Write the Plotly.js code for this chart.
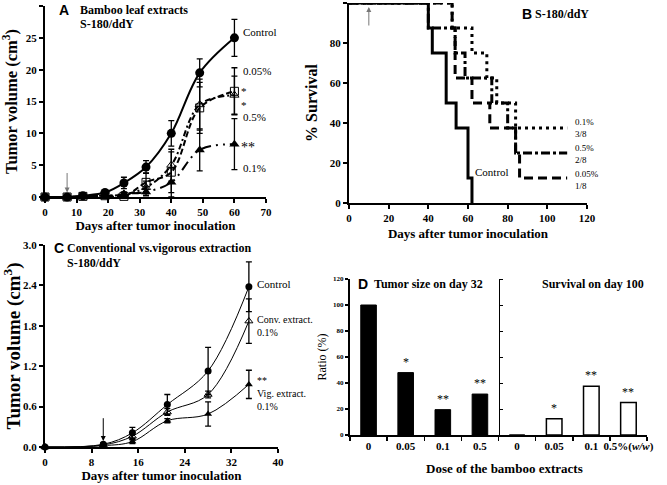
<!DOCTYPE html>
<html>
<head>
<meta charset="utf-8">
<script src="https://cdn.plot.ly/plotly-3.0.1.min.js"></script>
<style>
  html, body { margin: 0; padding: 0; background: #fff; }
  #plot { width: 667px; height: 485px; }
</style>
</head>
<body>
<div id="plot"></div>
<script>
// Panel A - tumor volume, bamboo leaf extracts
var daysA = [0, 7, 12, 19, 25, 32, 40, 49, 60];
var ctrlA = [0, 0, 0.2, 0.7, 2.2, 4.7, 10.0, 19.5, 25.0];
var ctrlAErr = [0, 0, 0.1, 0.2, 0.9, 1.0, 2.0, 2.2, 2.9];
var p005A = [0, 0, 0.1, 0.2, 0.1, 2.3, 3.9, 14.0, 16.6];
var p005AErr = [0, 0, 0, 0.1, 0.2, 1.5, 3.2, 4.0, 3.7];
var p05A = [0, 0, 0.1, 0.2, 0.4, 1.5, 5.0, 14.5, 16.0];
var p05AErr = [0, 0, 0, 0.1, 0.3, 1.0, 2.5, 4.0, 3.0];
var p01A = [0, 0, 0, 0.1, 0.5, 0.8, 2.3, 7.4, 8.3];
var p01AErr = [0, 0, 0, 0.1, 0.3, 0.6, 2.3, 3.3, 4.0];

// Panel B - survival (step curves)
var ctrlBDays = [0, 40, 42, 49, 54, 60, 62];
var ctrlBSurv = [100, 87.5, 75, 50, 37.5, 12.5, 0];
var p01BDays = [0, 52, 62, 69.5, 74.5, 84, 110];
var p01BSurv = [100, 87.5, 75, 62.5, 50, 37.5, 37.5];
var p05BDays = [0, 40, 53.5, 58.5, 72, 80, 84, 110];
var p05BSurv = [100, 87.5, 75, 62.5, 50, 37.5, 25, 25];
var p005BDays = [0, 52, 53.5, 62, 71, 84, 86, 110];
var p005BSurv = [100, 87.5, 62.5, 50, 37.5, 25, 12.5, 12.5];

// Panel C - conventional vs vigorous extraction
var daysC = [0, 10, 15, 21, 28, 35];
var ctrlC = [0, 0.04, 0.21, 0.63, 1.13, 2.38];
var ctrlCErr = [0, 0.02, 0.08, 0.15, 0.35, 0.37];
var convC = [0, 0.03, 0.16, 0.52, 0.78, 1.87];
var convCErr = [0, 0.01, 0.05, 0.05, 0.05, 0.33];
var vigC = [0, 0.02, 0.08, 0.39, 0.49, 0.93];
var vigCErr = [0, 0.01, 0.03, 0.03, 0.18, 0.21];

// Panel D - ratios
var doses = ['0', '0.05', '0.1', '0.5'];
var tumorRatio = [100, 48, 19.5, 31.5];
var survRatio = [0, 12.5, 37.5, 25];
var tumorSig = ['', '*', '**', '**'];
var survSig = ['', '*', '**', '**'];
var doseLabels = ['0', '0.05', '0.1', '0.5', '0', '0.05', '0.1', '0.5%(<i>w/w</i>)'];

var serif = 'Liberation Serif, Times New Roman, serif';
var tickBold = {family: serif, size: 11, color: '#000', weight: 'bold'};
var titleBold = {family: serif, size: 13, color: '#000', weight: 'bold'};

function axis(extra) {
  var a = {
    showgrid: false, zeroline: false, showline: true, linecolor: '#000', linewidth: 2,
    ticks: 'outside', ticklen: 4, tickwidth: 2, tickcolor: '#000',
    tickfont: tickBold, automargin: false, fixedrange: true
  };
  for (var k in extra) a[k] = extra[k];
  return a;
}

function errBars(arr) {
  return {type: 'data', array: arr, color: '#000', thickness: 1.3, width: 3};
}

var data = [];

// Panel A traces
data.push({x: daysA, y: ctrlA, error_y: errBars(ctrlAErr), type: 'scatter', mode: 'lines+markers',
  line: {color: '#000', width: 2, shape: 'spline'}, marker: {symbol: 'circle', size: 9, color: '#000'},
  cliponaxis: false, xaxis: 'x', yaxis: 'y'});
data.push({x: daysA, y: p005A, error_y: errBars(p005AErr), type: 'scatter', mode: 'lines+markers',
  line: {color: '#000', width: 2, shape: 'spline', dash: '6px,3px'},
  marker: {symbol: 'square-open', size: 8, color: '#000', line: {width: 1}},
  cliponaxis: false, xaxis: 'x', yaxis: 'y'});
data.push({x: daysA, y: p05A, error_y: errBars(p05AErr), type: 'scatter', mode: 'lines+markers',
  line: {color: '#000', width: 2, shape: 'spline', dash: '6px,3px,2px,3px'},
  marker: {symbol: 'triangle-up-open', size: 8, color: '#000', line: {width: 1}},
  cliponaxis: false, xaxis: 'x', yaxis: 'y'});
data.push({x: daysA, y: p01A, error_y: errBars(p01AErr), type: 'scatter', mode: 'lines+markers',
  line: {color: '#000', width: 2, shape: 'spline', dash: '10px,5px,2px,5px,2px,5px'},
  marker: {symbol: 'triangle-up', size: 9, color: '#000'},
  cliponaxis: false, xaxis: 'x', yaxis: 'y'});

// Panel B traces
data.push({x: ctrlBDays, y: ctrlBSurv, type: 'scatter', mode: 'lines',
  line: {color: '#000', width: 3, shape: 'hv'}, cliponaxis: false, xaxis: 'x2', yaxis: 'y2'});
data.push({x: p01BDays, y: p01BSurv, type: 'scatter', mode: 'lines',
  line: {color: '#000', width: 3, shape: 'hv', dash: '3px,4px'}, cliponaxis: false, xaxis: 'x2', yaxis: 'y2'});
data.push({x: p05BDays, y: p05BSurv, type: 'scatter', mode: 'lines',
  line: {color: '#000', width: 3, shape: 'hv', dash: '9px,3px,3px,3px'}, cliponaxis: false, xaxis: 'x2', yaxis: 'y2'});
data.push({x: p005BDays, y: p005BSurv, type: 'scatter', mode: 'lines',
  line: {color: '#000', width: 3, shape: 'hv', dash: '9px,5px'}, cliponaxis: false, xaxis: 'x2', yaxis: 'y2'});

// Panel C traces
data.push({x: daysC, y: ctrlC, error_y: errBars(ctrlCErr), type: 'scatter', mode: 'lines+markers',
  line: {color: '#000', width: 1, shape: 'spline'}, marker: {symbol: 'circle', size: 7, color: '#000'},
  cliponaxis: false, xaxis: 'x3', yaxis: 'y3'});
data.push({x: daysC, y: convC, error_y: errBars(convCErr), type: 'scatter', mode: 'lines+markers',
  line: {color: '#000', width: 1, shape: 'spline'},
  marker: {symbol: 'triangle-up-open', size: 7, color: '#000', line: {width: 1}},
  cliponaxis: false, xaxis: 'x3', yaxis: 'y3'});
data.push({x: daysC, y: vigC, error_y: errBars(vigCErr), type: 'scatter', mode: 'lines+markers',
  line: {color: '#000', width: 1, shape: 'spline'}, marker: {symbol: 'triangle-up', size: 7, color: '#000'},
  cliponaxis: false, xaxis: 'x3', yaxis: 'y3'});

// Panel D traces
data.push({x: [0, 1, 2, 3], y: tumorRatio, type: 'bar', width: 0.42,
  marker: {color: '#000', line: {color: '#000', width: 1}}, cliponaxis: false, xaxis: 'x4', yaxis: 'y4'});
data.push({x: [4, 5, 6, 7], y: survRatio, type: 'bar', width: 0.42,
  marker: {color: '#fff', line: {color: '#000', width: 1.5}}, cliponaxis: false, xaxis: 'x4', yaxis: 'y4'});
// divider axis inside panel D
data.push({x: [], y: [], type: 'scatter', mode: 'markers', xaxis: 'x4', yaxis: 'y5', hoverinfo: 'skip'});

function note(xref, yref, x, y, text, font, extra) {
  var a = {xref: xref, yref: yref, x: x, y: y, text: text, showarrow: false,
    xanchor: 'left', yanchor: 'middle', align: 'left', font: font};
  for (var k in extra) a[k] = extra[k];
  return a;
}
var lbl = {family: serif, size: 11, color: '#000'};
var lblSmall = {family: serif, size: 10, color: '#000'};
var lblTiny = {family: serif, size: 9, color: '#000'};
var star = {family: serif, size: 14, color: '#000'};
var head = {family: serif, size: 12, color: '#000', weight: 'bold'};
var letter = {family: 'Liberation Sans, Arial, sans-serif', size: 14, color: '#000', weight: 'bold'};

var annotations = [
  // A
  note('x', 'y', 3.9, 29.3, 'A', letter),
  note('x', 'y', 10.3, 29.3, 'Bamboo leaf extracts', head),
  note('x', 'y', 10.3, 27.2, 'S-180/ddY', head),
  note('x', 'y', 62.0, 25.9, 'Control', lbl),
  note('x', 'y', 62.0, 19.8, '0.05%', lbl),
  note('x', 'y', 61.5, 15.6, '*<br>*', {family: serif, size: 11, color: '#000'}),
  note('x', 'y', 62.0, 12.6, '0.5%', lbl),
  note('x', 'y', 61.5, 7.8, '**', star),
  note('x', 'y', 62.0, 4.6, '0.1%', lbl),
  {xref: 'x', yref: 'y', axref: 'x', ayref: 'y', x: 7, y: 0.7, ax: 7, ay: 4.0, text: '',
    showarrow: true, arrowhead: 2, arrowsize: 1, arrowwidth: 1, arrowcolor: '#777'},
  // B
  note('x2', 'y2', 86.3, 94.6, 'B', letter),
  note('x2', 'y2', 93.0, 94.6, 'S-180/ddY', head),
  note('x2', 'y2', 62.4, 15.3, 'Control', lbl),
  note('x2', 'y2', 113.0, 37.6, '0.1%<br>3/8', lblTiny),
  note('x2', 'y2', 113.0, 24.3, '0.5%<br>2/8', lblTiny),
  note('x2', 'y2', 113.0, 11.5, '0.05%<br>1/8', lblTiny),
  {xref: 'x2', yref: 'y2', axref: 'x2', ayref: 'y2', x: 10, y: 98, ax: 10, ay: 88, text: '',
    showarrow: true, arrowhead: 2, arrowsize: 1, arrowwidth: 1, arrowcolor: '#777'},
  // C
  note('x3', 'y3', 1.2, 2.96, 'C', letter),
  note('x3', 'y3', 3.4, 2.96, 'Conventional vs.vigorous extraction', head),
  note('x3', 'y3', 3.4, 2.74, 'S-180/ddY', head),
  note('x3', 'y3', 36.0, 2.42, 'Control', lbl),
  note('x3', 'y3', 36.0, 1.79, 'Conv. extract.<br>0.1%', lblSmall),
  note('x3', 'y3', 36.0, 0.80, '**<br>Vig. extract.<br>0.1%', lblSmall),
  {xref: 'x3', yref: 'y3', axref: 'x3', ayref: 'y3', x: 10, y: 0.09, ax: 10, ay: 0.45, text: '',
    showarrow: true, arrowhead: 2, arrowsize: 1, arrowwidth: 1, arrowcolor: '#000'},
  // D
  note('x4', 'y4', -0.35, 116, 'D', letter),
  note('x4', 'y4', 0.1, 116, 'Tumor size on day 32', head),
  note('x4', 'y4', 4.62, 116, 'Survival on day 100', head),
  note('paper', 'paper', 504 / 667, 1 - 468 / 485, 'Dose of the bamboo extracts', titleBold, {xanchor: 'center'})
];

// significance marks above the bars of panel D
var sigFont = {family: serif, size: 12, color: '#000'};
tumorSig.forEach(function (s, i) {
  if (s) annotations.push({xref: 'x4', yref: 'y4', x: i, y: tumorRatio[i], text: s, showarrow: false,
    yanchor: 'bottom', yshift: 2, font: sigFont});
});
survSig.forEach(function (s, i) {
  if (s) annotations.push({xref: 'x4', yref: 'y4', x: i + 4, y: survRatio[i], text: s, showarrow: false,
    yanchor: 'bottom', yshift: 2, font: sigFont});
});

var layout = {
  width: 667, height: 485,
  margin: {l: 0, r: 0, t: 0, b: 0},
  paper_bgcolor: '#fff', plot_bgcolor: 'rgba(0,0,0,0)',
  showlegend: false,
  xaxis: axis({domain: [45 / 667, 266 / 667], range: [0, 70], dtick: 10, anchor: 'y',
    title: {text: 'Days after tumor inoculation', font: titleBold, standoff: 4}}),
  yaxis: axis({domain: [1 - 197 / 485, 1 - 6 / 485], range: [0, 30], dtick: 5, anchor: 'x',
    title: {text: 'Tumor volume (cm<sup>3</sup>)', font: {family: serif, size: 16.5, color: '#000', weight: 'bold'}, standoff: 5}}),
  xaxis2: axis({domain: [349 / 667, 587 / 667], range: [0, 120], dtick: 20, anchor: 'y2',
    title: {text: 'Days after tumor inoculation', font: titleBold, standoff: 6}}),
  yaxis2: axis({domain: [1 - 203 / 485, 1 - 3 / 485], range: [0, 100], dtick: 20, anchor: 'x2',
    title: {text: '% Survival', font: {family: serif, size: 16, color: '#000', weight: 'bold'}, standoff: 8}}),
  xaxis3: axis({domain: [45 / 667, 278 / 667], range: [0, 40], dtick: 8, anchor: 'y3',
    title: {text: 'Days after tumor inoculation', font: titleBold, standoff: 4}}),
  yaxis3: axis({domain: [1 - 447 / 485, 1 - 245 / 485], range: [0, 3], dtick: 0.6, tickformat: '.1f', anchor: 'x3',
    title: {text: 'Tumor volume (cm<sup>3</sup>)', font: {family: serif, size: 19, color: '#000', weight: 'bold'}, standoff: 3}}),
  xaxis4: axis({domain: [350 / 667, 647 / 667], range: [-0.5, 7.5], anchor: 'y4',
    tickvals: [0, 1, 2, 3, 4, 5, 6, 7], ticktext: doseLabels, ticks: '',
    minor: {ticks: 'outside', tick0: 0.5, dtick: 1, ticklen: 4, tickwidth: 1.5, tickcolor: '#000'}}),
  yaxis4: axis({domain: [1 - 435 / 485, 1 - 279 / 485], range: [0, 120], dtick: 20, anchor: 'x4',
    tickfont: {family: serif, size: 7, color: '#000', weight: 'bold'}, ticklen: 3, tickwidth: 1.5,
    title: {text: 'Ratio (%)', font: {family: serif, size: 12, color: '#000'}, standoff: 4}}),
  yaxis5: axis({overlaying: 'y4', anchor: 'free', side: 'right', position: 498.5 / 667, range: [0, 120], dtick: 20,
    showticklabels: false, ticklen: 3, tickwidth: 1, linewidth: 1.5}),
  annotations: annotations
};

Plotly.newPlot('plot', data, layout, {staticPlot: true});
</script>
</body>
</html>
